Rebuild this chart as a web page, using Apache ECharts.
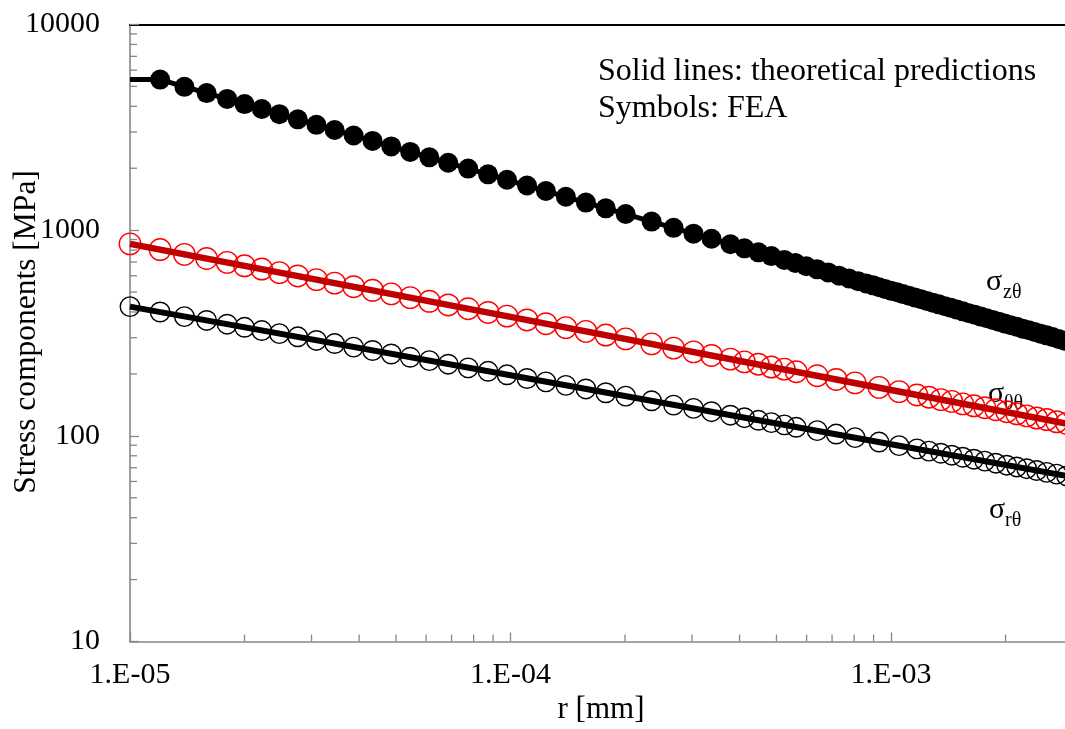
<!DOCTYPE html>
<html>
<head>
<meta charset="utf-8">
<script src="https://cdn.jsdelivr.net/npm/echarts@6/dist/echarts.min.js"></script>
<style>
  html, body { margin: 0; padding: 0; background: #fff; overflow: hidden; width: 1065px; height: 729px; }
  /* plot continues past the right edge of the window; the frame shows up to r ≈ 2.8E-03 */
  #chart { width: 1300px; height: 729px; }
</style>
</head>
<body>
<div id="chart"></div>
<script>
// ---- FEA node radii [mm] (open symbols: σθθ and σrθ share the same nodes) ----
const rNodes = [1.00e-5, 1.20e-5, 1.39e-5, 1.59e-5, 1.80e-5, 2.00e-5, 2.22e-5, 2.47e-5, 2.76e-5, 3.09e-5,
  3.45e-5, 3.87e-5, 4.34e-5, 4.86e-5, 5.45e-5, 6.12e-5, 6.86e-5, 7.74e-5, 8.73e-5, 9.79e-5,
  1.105e-4, 1.239e-4, 1.398e-4, 1.578e-4, 1.780e-4, 2.008e-4, 2.349e-4, 2.683e-4, 3.027e-4, 3.375e-4,
  3.784e-4, 4.119e-4, 4.482e-4, 4.848e-4, 5.243e-4, 5.636e-4, 6.397e-4, 7.176e-4, 8.046e-4, 9.301e-4,
  1.050e-3, 1.170e-3, 1.258e-3, 1.352e-3, 1.445e-3, 1.544e-3, 1.651e-3, 1.764e-3, 1.885e-3, 2.014e-3,
  2.140e-3, 2.273e-3, 2.414e-3, 2.565e-3, 2.724e-3, 2.893e-3];

// σθθ from FEA [MPa]
const sigmaThetaThetaFEA = [858, 805, 763, 728, 697, 671, 647, 622, 599, 575,
  553, 531, 510, 490, 470, 451, 433, 415, 398, 382,
  366, 351, 336, 322, 309, 296, 280, 267, 256, 246,
  236, 229, 223, 216, 211, 205, 196, 188, 181, 172,
  164, 158, 154, 150, 147, 143, 140, 137, 134, 131,
  128, 125, 122, 120, 117, 115];

// σrθ from FEA [MPa]
const sigmaRThetaFEA = [425, 400, 380, 364, 349, 337, 325, 314, 303, 291,
  281, 270, 260, 250, 241, 232, 223, 214, 206, 198,
  190, 183, 176, 169, 162, 156, 148, 141, 136, 131,
  126, 122.5, 119, 116, 113, 110, 106, 102, 98, 93.3,
  89.6, 86.4, 84.3, 82.3, 80.5, 78.7, 77.0, 75.3, 73.6, 72.0,
  70.6, 69.2, 67.8, 66.4, 65.1, 63.8];

// ---- σzθ FEA nodes (refined mesh towards larger r) ----
const rNodesZ = [1.20e-5, 1.39e-5, 1.59e-5, 1.80e-5, 2.00e-5, 2.22e-5, 2.47e-5, 2.76e-5, 3.09e-5, 3.45e-5,
  3.87e-5, 4.34e-5, 4.86e-5, 5.45e-5, 6.12e-5, 6.86e-5, 7.74e-5, 8.73e-5, 9.79e-5, 1.105e-4,
  1.239e-4, 1.398e-4, 1.578e-4, 1.780e-4, 2.008e-4, 2.349e-4, 2.683e-4, 3.027e-4, 3.375e-4, 3.784e-4,
  4.119e-4, 4.482e-4, 4.848e-4, 5.243e-4, 5.604e-4, 5.988e-4, 6.397e-4, 6.838e-4, 7.306e-4, 7.760e-4,
  8.195e-4, 8.601e-4, 8.972e-4, 9.301e-4, 9.644e-4, 1.000e-3, 1.037e-3, 1.075e-3, 1.115e-3, 1.156e-3,
  1.199e-3, 1.243e-3, 1.289e-3, 1.336e-3, 1.386e-3, 1.437e-3, 1.490e-3, 1.545e-3, 1.602e-3, 1.661e-3,
  1.722e-3, 1.785e-3, 1.851e-3, 1.920e-3, 1.990e-3, 2.064e-3, 2.140e-3, 2.219e-3, 2.301e-3, 2.386e-3,
  2.474e-3, 2.565e-3, 2.659e-3, 2.757e-3, 2.859e-3];

const sigmaZThetaFEA = [5395, 4977, 4638, 4347, 4102, 3883, 3664, 3458, 3253, 3069,
  2887, 2716, 2554, 2402, 2260, 2126, 1993, 1869, 1758, 1648,
  1550, 1453, 1362, 1277, 1198, 1101, 1026, 962, 908, 854,
  816, 780, 748, 717, 693, 668, 645, 623, 601, 582,
  565, 551, 539, 528, 518, 508, 499, 489, 480, 471,
  462, 453, 444, 436, 427, 419, 411, 403, 395, 388,
  380, 373, 366, 359, 352, 345, 339, 332, 326, 320,
  314, 308, 302, 296, 290];

// ---- theoretical predictions (straight lines in log-log) ----
const rTheory = [1e-5, 1e-4, 1e-3, 1e-2];
const sigmaThetaThetaTheory = [858, 379, 167, 73.9];
const sigmaRThetaTheory = [425, 197, 91.0, 42.2];
const rTheoryZ = [1e-5, 1.2e-5, 1e-4, 1e-3, 1e-2];
const sigmaZThetaTheory = [5395, 5395, 1738, 508, 148.6];

// ---- axes ----
const xRange = [1e-5, 1e-2];
const yRange = [10, 10000];
const xMinorTicks = [2e-5, 3e-5, 4e-5, 5e-5, 6e-5, 7e-5, 8e-5, 9e-5,
  2e-4, 3e-4, 4e-4, 5e-4, 6e-4, 7e-4, 8e-4, 9e-4,
  2e-3, 3e-3, 4e-3, 5e-3, 6e-3, 7e-3, 8e-3, 9e-3];
const yMinorTicks = [20, 30, 40, 50, 60, 70, 80, 90,
  200, 300, 400, 500, 600, 700, 800, 900,
  2000, 3000, 4000, 5000, 6000, 7000, 8000, 9000];

const SERIF = '"Liberation Serif", "Times New Roman", Times, serif';
const AXIS_GREY = '#868686';

const pair = (xs, ys) => xs.map((x, i) => [x, ys[i]]);

function sciLabel(v) {
  const e = Math.round(Math.log10(v));
  const a = Math.abs(e);
  return '1.E' + (e < 0 ? '-' : '+') + (a < 10 ? '0' + a : String(a));
}

function minorTickRenderer(dir) {
  return function (params, api) {
    const p = api.coord([api.value(0), api.value(1)]);
    const len = 7;
    const shape = dir === 'x'
      ? { x1: p[0], y1: p[1], x2: p[0], y2: p[1] - len }
      : { x1: p[0], y1: p[1], x2: p[0] + len, y2: p[1] };
    return { type: 'line', shape: shape, style: { stroke: AXIS_GREY, lineWidth: 1.3 } };
  };
}

const chart = echarts.init(document.getElementById('chart'), null, { renderer: 'canvas' });

const openSymbol = (color, size) => ({
  type: 'scatter',
  symbol: 'circle',
  symbolSize: size,
  itemStyle: { color: 'rgba(0,0,0,0)', borderColor: color, borderWidth: 1.4, opacity: 1 },
  emphasis: { disabled: true },
  z: 4
});

chart.setOption({
  animation: false,
  backgroundColor: '#fff',
  grid: { left: 130, top: 24.5, width: 1141.5, height: 617, outerBoundsMode: 'none', containLabel: false },
  xAxis: [{
    type: 'log', logBase: 10, min: xRange[0], max: xRange[1], position: 'bottom',
    axisLine: { lineStyle: { color: AXIS_GREY, width: 1.6 } },
    axisTick: { inside: true, length: 9, lineStyle: { color: AXIS_GREY, width: 1.3 } },
    axisLabel: { margin: 19, fontSize: 30, fontFamily: SERIF, color: '#000', formatter: sciLabel, showMaxLabel: false },
    splitLine: { show: false }, minorTick: { show: false }
  }, {
    type: 'log', logBase: 10, min: xRange[0], max: xRange[1], position: 'top',
    axisLine: { lineStyle: { color: '#000', width: 2 } },
    axisTick: { show: false }, axisLabel: { show: false }, splitLine: { show: false }
  }],
  yAxis: {
    type: 'log', logBase: 10, min: yRange[0], max: yRange[1],
    axisLine: { lineStyle: { color: AXIS_GREY, width: 1.6 } },
    axisTick: { inside: true, length: 9, lineStyle: { color: AXIS_GREY, width: 1.3 } },
    axisLabel: { margin: 30, fontSize: 30, fontFamily: SERIF, color: '#000', formatter: v => String(Math.round(v)) },
    splitLine: { show: false }, minorTick: { show: false }
  },
  series: [
    {
      type: 'custom', name: 'x minor ticks', silent: true, clip: false, z: 3,
      renderItem: minorTickRenderer('x'),
      data: xMinorTicks.map(v => [v, yRange[0]])
    },
    {
      type: 'custom', name: 'y minor ticks', silent: true, clip: false, z: 3,
      renderItem: minorTickRenderer('y'),
      data: yMinorTicks.map(v => [xRange[0], v])
    },
    // σzθ
    {
      type: 'line', name: 'σzθ theory', data: pair(rTheoryZ, sigmaZThetaTheory),
      showSymbol: false, lineStyle: { color: '#000', width: 5 }, emphasis: { disabled: true }, z: 3
    },
    {
      type: 'scatter', name: 'σzθ FEA', data: pair(rNodesZ, sigmaZThetaFEA),
      symbol: 'circle', symbolSize: 20,
      itemStyle: { color: '#000', opacity: 1 }, emphasis: { disabled: true }, z: 4
    },
    // σθθ
    Object.assign(openSymbol('#ff0000', 21.5), { name: 'σθθ FEA', data: pair(rNodes, sigmaThetaThetaFEA) }),
    {
      type: 'line', name: 'σθθ theory', data: pair(rTheory, sigmaThetaThetaTheory),
      showSymbol: false, lineStyle: { color: '#c00000', width: 6.5 }, emphasis: { disabled: true }, z: 5
    },
    // σrθ
    Object.assign(openSymbol('#000', 19.5), { name: 'σrθ FEA', data: pair(rNodes, sigmaRThetaFEA) }),
    {
      type: 'line', name: 'σrθ theory', data: pair(rTheory, sigmaRThetaTheory),
      showSymbol: false, lineStyle: { color: '#000', width: 6 }, emphasis: { disabled: true }, z: 5
    }
  ],
  graphic: [
    { type: 'text', x: 598, y: 72, style: { text: 'Solid lines: theoretical predictions', fontSize: 32, fontFamily: SERIF, fill: '#000', verticalAlign: 'middle' } },
    { type: 'text', x: 598, y: 109, style: { text: 'Symbols: FEA', fontSize: 32, fontFamily: SERIF, fill: '#000', verticalAlign: 'middle' } },
    { type: 'text', x: 601, y: 710, style: { text: 'r [mm]', fontSize: 31, fontFamily: SERIF, fill: '#000', align: 'center', verticalAlign: 'middle' } },
    { type: 'text', x: 27, y: 332, rotation: Math.PI / 2, style: { text: 'Stress components [MPa]', fontSize: 31.5, fontFamily: SERIF, fill: '#000', align: 'center', verticalAlign: 'middle' } },
    // curve labels
    { type: 'text', x: 986, y: 282, style: { text: 'σ', fontSize: 30, fontFamily: SERIF, fill: '#000', verticalAlign: 'middle' } },
    { type: 'text', x: 1003, y: 293, style: { text: 'zθ', fontSize: 20, fontFamily: SERIF, fill: '#000', verticalAlign: 'middle' } },
    { type: 'text', x: 988, y: 394, style: { text: 'σ', fontSize: 30, fontFamily: SERIF, fill: '#000', verticalAlign: 'middle' } },
    { type: 'text', x: 1004, y: 404, style: { text: 'θθ', fontSize: 20, fontFamily: SERIF, fill: '#000', verticalAlign: 'middle' } },
    { type: 'text', x: 989, y: 510, style: { text: 'σ', fontSize: 30, fontFamily: SERIF, fill: '#000', verticalAlign: 'middle' } },
    { type: 'text', x: 1005, y: 521, style: { text: 'rθ', fontSize: 20, fontFamily: SERIF, fill: '#000', verticalAlign: 'middle' } }
  ]
});
</script>
</body>
</html>
